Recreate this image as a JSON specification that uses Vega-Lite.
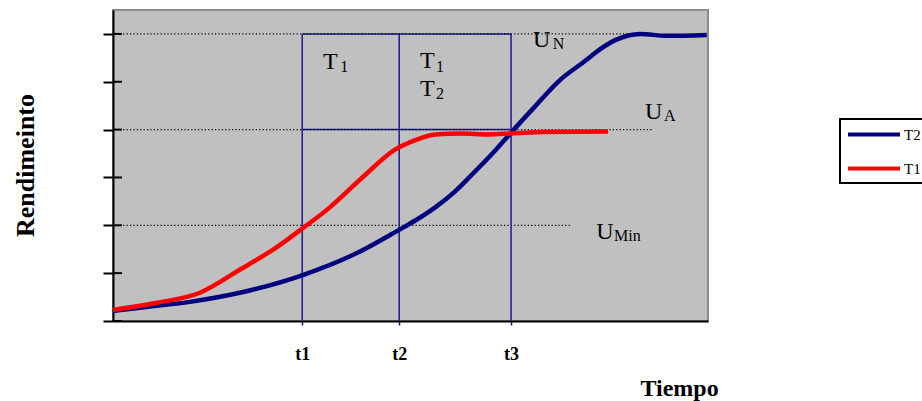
{
  "$schema": "https://vega.github.io/schema/vega-lite/v6.json",
  "width": 595,
  "height": 311,
  "autosize": "none",
  "padding": {"left": 113, "top": 10, "right": 214, "bottom": 80},
  "background": "white",
  "config": {
    "view": {"fill": "#c0c0c0", "stroke": "#8c8c8c", "strokeWidth": 2},
    "font": "Liberation Serif"
  },
  "datasets": {
    "series": [
      {"serie": "T2", "t": 0, "r": 0.21},
      {"serie": "T2", "t": 6, "r": 0.3},
      {"serie": "T2", "t": 12.9, "r": 0.4},
      {"serie": "T2", "t": 21.3, "r": 0.59},
      {"serie": "T2", "t": 31.9, "r": 0.96},
      {"serie": "T2", "t": 41.0, "r": 1.42},
      {"serie": "T2", "t": 48.0, "r": 1.9},
      {"serie": "T2", "t": 50.8, "r": 2.1},
      {"serie": "T2", "t": 54.1, "r": 2.37},
      {"serie": "T2", "t": 57.5, "r": 2.71},
      {"serie": "T2", "t": 60.8, "r": 3.12},
      {"serie": "T2", "t": 64.2, "r": 3.56},
      {"serie": "T2", "t": 67.0, "r": 3.95},
      {"serie": "T2", "t": 70.9, "r": 4.48},
      {"serie": "T2", "t": 74.8, "r": 5.0},
      {"serie": "T2", "t": 79.6, "r": 5.46},
      {"serie": "T2", "t": 81.0, "r": 5.6},
      {"serie": "T2", "t": 84.4, "r": 5.87},
      {"serie": "T2", "t": 88.6, "r": 6.0},
      {"serie": "T2", "t": 93.1, "r": 5.96},
      {"serie": "T2", "t": 99.8, "r": 5.98},
      {"serie": "T1", "t": 0, "r": 0.23},
      {"serie": "T1", "t": 7.4, "r": 0.38},
      {"serie": "T1", "t": 14.6, "r": 0.59},
      {"serie": "T1", "t": 21.3, "r": 1.07},
      {"serie": "T1", "t": 27.6, "r": 1.55},
      {"serie": "T1", "t": 31.9, "r": 1.94},
      {"serie": "T1", "t": 36.5, "r": 2.38},
      {"serie": "T1", "t": 42.0, "r": 3.01},
      {"serie": "T1", "t": 47.4, "r": 3.58},
      {"serie": "T1", "t": 50.8, "r": 3.78},
      {"serie": "T1", "t": 54.1, "r": 3.9},
      {"serie": "T1", "t": 58.6, "r": 3.92},
      {"serie": "T1", "t": 63.0, "r": 3.9},
      {"serie": "T1", "t": 67.0, "r": 3.92},
      {"serie": "T1", "t": 72.6, "r": 3.95},
      {"serie": "T1", "t": 83.2, "r": 3.96}
    ],
    "box": [
      {"x": 31.8, "x2": 31.8, "y": 0, "y2": 6},
      {"x": 48.1, "x2": 48.1, "y": 0, "y2": 6},
      {"x": 66.9, "x2": 66.9, "y": 0, "y2": 6},
      {"x": 31.8, "x2": 66.9, "y": 6, "y2": 6},
      {"x": 31.8, "x2": 66.9, "y": 4, "y2": 4}
    ],
    "levels": [
      {"name": "UN", "y": 6, "x": 0, "x2": 88.2},
      {"name": "UA", "y": 4, "x": 0, "x2": 90.8},
      {"name": "UMin", "y": 2, "x": 0, "x2": 77.1}
    ],
    "innerTicks": [
      {"y": 0}, {"y": 1}, {"y": 2}, {"y": 3}, {"y": 4}, {"y": 5}, {"y": 6}
    ],
    "mainText": [
      {"label": "T", "x": 35.3, "y": 5.27},
      {"label": "T", "x": 51.6, "y": 5.29},
      {"label": "T", "x": 51.6, "y": 4.7},
      {"label": "U", "x": 70.6, "y": 5.73},
      {"label": "U", "x": 89.4, "y": 4.22},
      {"label": "U", "x": 81.2, "y": 1.71}
    ],
    "subText": [
      {"label": "1", "x": 38.2, "y": 5.21},
      {"label": "1", "x": 54.3, "y": 5.21},
      {"label": "2", "x": 54.3, "y": 4.64},
      {"label": "N", "x": 73.9, "y": 5.69},
      {"label": "A", "x": 92.6, "y": 4.18},
      {"label": "Min", "x": 84.2, "y": 1.67}
    ]
  },
  "layer": [
    {
      "data": {"name": "box"},
      "mark": {"type": "rule", "color": "#1a1a8c", "strokeWidth": 1.5},
      "encoding": {
        "x": {
          "field": "x", "type": "quantitative",
          "scale": {"domain": [0, 100], "nice": false, "zero": false},
          "axis": {
            "values": [31.8, 48.1, 66.9],
            "labelExpr": "datum.value == 31.8 ? 't1' : datum.value == 48.1 ? 't2' : 't3'",
            "grid": false,
            "domainColor": "black", "domainWidth": 2,
            "tickColor": "#1a1a8c", "tickWidth": 1.5, "tickSize": 4,
            "labelFont": "Liberation Serif", "labelFontWeight": "bold", "labelFontSize": 18,
            "labelColor": "black", "labelPadding": 34, "labelBaseline": "alphabetic",
            "labelFlush": false,
            "title": "Tiempo",
            "titleFont": "Liberation Serif", "titleFontWeight": "bold", "titleFontSize": 24,
            "titleColor": "black",
            "titleX": 566, "titleY": 74, "titleAlign": "center", "titleBaseline": "alphabetic"
          }
        },
        "x2": {"field": "x2"},
        "y": {
          "field": "y", "type": "quantitative",
          "scale": {"domain": [0, 6.5], "nice": false, "zero": false},
          "axis": {
            "values": [0, 1, 2, 3, 4, 5, 6],
            "labels": false,
            "grid": false,
            "domainColor": "black", "domainWidth": 2,
            "tickColor": "black", "tickWidth": 2, "tickSize": 10,
            "title": "Rendimeinto",
            "titleFont": "Liberation Serif", "titleFontWeight": "bold", "titleFontSize": 26,
            "titleColor": "black",
            "titleX": -80, "titleY": 155, "titleAngle": -90, "titleAlign": "center", "titleBaseline": "alphabetic"
          }
        },
        "y2": {"field": "y2"}
      }
    },
    {
      "data": {"name": "levels"},
      "mark": {"type": "rule", "color": "black", "strokeWidth": 1.2, "strokeDash": [1.2, 2.2]},
      "encoding": {
        "x": {"field": "x", "type": "quantitative"},
        "x2": {"field": "x2"},
        "y": {"field": "y", "type": "quantitative"}
      }
    },
    {
      "data": {"name": "innerTicks"},
      "mark": {"type": "rule", "color": "black", "strokeWidth": 2},
      "encoding": {
        "x": {"datum": 0, "type": "quantitative"},
        "x2": {"datum": 1.5},
        "y": {"field": "y", "type": "quantitative"}
      }
    },
    {
      "data": {"name": "series"},
      "mark": {"type": "line", "interpolate": "monotone", "strokeWidth": 4.5, "strokeCap": "butt"},
      "encoding": {
        "x": {"field": "t", "type": "quantitative"},
        "y": {"field": "r", "type": "quantitative"},
        "color": {
          "field": "serie", "type": "nominal",
          "scale": {"domain": ["T2", "T1"], "range": ["#000080", "#ff0000"]},
          "legend": {
            "orient": "none", "legendX": 727, "legendY": 109,
            "title": null,
            "symbolType": "M-3.4667,0H3.4667", "symbolSize": 225, "symbolStrokeWidth": 4,
            "symbolOffset": 18.5,
            "labelFont": "Liberation Serif", "labelFontSize": 15, "labelColor": "black",
            "labelOffset": 20.5,
            "strokeColor": "black", "fillColor": "white", "padding": 6, "rowPadding": 16,
            "encode": {"legend": {"update": {"strokeWidth": {"value": 2}}}}
          }
        },
        "order": {"field": "serie", "sort": "ascending"}
      }
    },
    {
      "data": {"name": "mainText"},
      "mark": {"type": "text", "font": "Liberation Serif", "fontSize": 24, "align": "left", "baseline": "alphabetic", "color": "black"},
      "encoding": {
        "x": {"field": "x", "type": "quantitative"},
        "y": {"field": "y", "type": "quantitative"},
        "text": {"field": "label"}
      }
    },
    {
      "data": {"name": "subText"},
      "mark": {"type": "text", "font": "Liberation Serif", "fontSize": 16, "align": "left", "baseline": "alphabetic", "color": "black"},
      "encoding": {
        "x": {"field": "x", "type": "quantitative"},
        "y": {"field": "y", "type": "quantitative"},
        "text": {"field": "label"}
      }
    }
  ]
}
